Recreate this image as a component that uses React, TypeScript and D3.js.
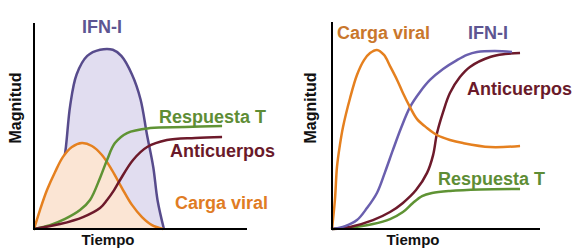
import React from "react";
import * as d3 from "d3";

// ---------- Data (time 0-100, magnitude 0-100) ----------
// Left panel
const leftIfnT = [12, 13, 15, 17, 20, 25, 31, 37, 41, 46, 50, 53, 56, 58, 61];
const leftIfnM = [0, 24, 40, 60, 75, 84, 87, 87, 84, 75, 63, 46, 30, 14, 0];

const leftViralT = [0, 2.8, 6.1, 9.9, 13.6, 17.8, 22.5, 27.2, 31.9, 36.6, 41.3, 46.0, 50.7, 55.4, 60.6];
const leftViralM = [0, 9.2, 18.9, 27.7, 35.0, 39.8, 41.7, 40.3, 35.9, 28.6, 19.9, 11.7, 5.8, 1.9, 0];

const leftTcellT = [0, 7.5, 14.6, 21.6, 26.3, 31.0, 34.3, 38.0, 43.7, 54.5, 70.9, 88.3];
const leftTcellM = [0, 1.9, 4.9, 9.2, 14.1, 24.8, 33.5, 41.7, 46.6, 49.0, 49.5, 50.0];

const leftAbT = [0, 12.2, 23.0, 31.0, 34.3, 37.6, 40.4, 46.5, 53.1, 62.4, 75.6, 88.3];
const leftAbM = [0, 2.4, 5.8, 10.2, 14.1, 18.9, 23.8, 33.5, 39.8, 43.2, 44.2, 44.7];

// Right panel
const rightViralT = [0, 1.4, 2.4, 3.8, 5.3, 8.7, 12.0, 15.4, 18.3, 21.6, 25.0, 27.9, 31.3, 34.1, 37.5, 40.9, 45.7, 50.5, 56.7, 63.0, 76.0, 90.4];
const rightViralM = [0, 14.0, 30.0, 40.6, 49.3, 63.3, 74.4, 81.6, 85.0, 86.5, 84.1, 78.7, 72.0, 65.7, 58.9, 53.1, 48.8, 45.4, 43.0, 41.5, 39.6, 40.1];

const rightIfnT = [0, 6.3, 12.0, 16.8, 21.6, 25.5, 29.3, 33.2, 37.5, 42.3, 47.1, 53.4, 60.1, 64.9, 69.7, 78.4, 86.5];
const rightIfnM = [0, 1.4, 4.3, 10.1, 17.4, 27.5, 38.2, 48.8, 58.9, 66.2, 72.0, 77.3, 81.6, 84.1, 85.5, 86.0, 85.5];

const rightAbT = [0, 8.7, 19.7, 27.9, 34.1, 40.4, 45.7, 48.6, 50.5, 53.4, 56.7, 61.5, 66.3, 76.0, 83.2, 90.4];
const rightAbM = [0, 1.0, 4.3, 8.2, 12.6, 18.8, 27.1, 35.7, 46.4, 56.5, 65.7, 73.4, 78.3, 83.1, 84.5, 85.0];

const rightTcellT = [0, 11.1, 19.7, 27.9, 34.1, 38.9, 43.3, 48.1, 56.7, 71.2, 90.4];
const rightTcellM = [0, 1.0, 2.4, 4.8, 8.2, 12.6, 15.9, 17.4, 18.4, 19.1, 19.3];

// Labels
const labelIfn = "IFN-I";
const labelViral = "Carga viral";
const labelTcell = "Respuesta T";
const labelAb = "Anticuerpos";
const labelX = "Tiempo";
const labelY = "Magnitud";

const zip = (t: number[], m: number[]) => t.map((v, i) => [v, m[i]] as [number, number]);

const FONT = "'Liberation Sans', Arial, sans-serif";
const C_ORANGE = "#e5801f";
const C_PURPLE = "#574b8c";
const C_PURPLE2 = "#6a5fae";
const C_GREEN = "#5f9334";
const C_RED = "#6d1a2b";

export default function App() {
  const W = 584, H = 250;

  const xL = d3.scaleLinear().domain([0, 100]).range([34, 247]);
  const yL = d3.scaleLinear().domain([0, 100]).range([229, 23]);
  const xR = d3.scaleLinear().domain([0, 100]).range([332, 540]);
  const yR = d3.scaleLinear().domain([0, 100]).range([229, 22]);

  const lineGen = (x: d3.ScaleLinear<number, number>, y: d3.ScaleLinear<number, number>) =>
    d3.line<[number, number]>().x(d => x(d[0])).y(d => y(d[1])).curve(d3.curveCatmullRom.alpha(0.5));
  const areaGen = (x: d3.ScaleLinear<number, number>, y: d3.ScaleLinear<number, number>) =>
    d3.area<[number, number]>().x(d => x(d[0])).y0(y(0)).y1(d => y(d[1])).curve(d3.curveCatmullRom.alpha(0.5));

  const lL = lineGen(xL, yL);
  const aL = areaGen(xL, yL);
  const lR = lineGen(xR, yR);

  const lIfn = zip(leftIfnT, leftIfnM);
  const lViral = zip(leftViralT, leftViralM);

  const txt = (x: number, y: number, s: string, fill: string, size = 18, anchor = "start") => (
    <text x={x} y={y} fill={fill} fontSize={size} fontWeight="bold" fontFamily={FONT} textAnchor={anchor}>{s}</text>
  );

  return (
    <svg width={W} height={H} style={{ position: "absolute", left: 0, top: 0, background: "#fff" }}>
      <rect width={W} height={H} fill="#fff" />
      {/* Left panel */}
      <path d={aL(lIfn) || ""} fill="#e1ddf0" />
      <path d={lL(lIfn) || ""} fill="none" stroke={C_PURPLE} strokeWidth={2.5} />
      <path d={aL(lViral) || ""} fill="#fbe5d4" />
      <path d={lL(lViral) || ""} fill="none" stroke={C_ORANGE} strokeWidth={2.5} />
      <path d={lL(zip(leftTcellT, leftTcellM)) || ""} fill="none" stroke={C_GREEN} strokeWidth={2.5} />
      <path d={lL(zip(leftAbT, leftAbM)) || ""} fill="none" stroke={C_RED} strokeWidth={2.5} />
      <line x1={xL(0)} x2={xL(0)} y1={yL(100)} y2={yL(0) + 1} stroke="#000" strokeWidth={2} />
      <line x1={xL(0)} x2={xL(100)} y1={yL(0)} y2={yL(0)} stroke="#000" strokeWidth={2} />
      {txt(82, 33, labelIfn, "#5e5592")}
      {txt(159, 123, labelTcell, "#5e8d35")}
      {txt(170, 157, labelAb, "#6a1a2a")}
      {txt(175, 209, labelViral, "#e07c24")}
      {txt(108, 245, labelX, "#111", 15, "middle")}
      <text transform="translate(21,108) rotate(-90)" fill="#111" fontSize={16} fontWeight="bold" fontFamily={FONT} textAnchor="middle">{labelY}</text>

      {/* Right panel */}
      <path d={lR(zip(rightTcellT, rightTcellM)) || ""} fill="none" stroke={C_GREEN} strokeWidth={2.5} />
      <path d={lR(zip(rightAbT, rightAbM)) || ""} fill="none" stroke={C_RED} strokeWidth={2.5} />
      <path d={lR(zip(rightIfnT, rightIfnM)) || ""} fill="none" stroke={C_PURPLE2} strokeWidth={2.5} />
      <path d={lR(zip(rightViralT, rightViralM)) || ""} fill="none" stroke={C_ORANGE} strokeWidth={2.5} />
      <line x1={xR(0)} x2={xR(0)} y1={yR(100)} y2={yR(0) + 1} stroke="#000" strokeWidth={2} />
      <line x1={xR(0)} x2={xR(100)} y1={yR(0)} y2={yR(0)} stroke="#000" strokeWidth={2} />
      {txt(337, 39, labelViral, "#c9772c")}
      {txt(468, 39, labelIfn, "#5e5592")}
      {txt(467, 95, labelAb, "#6a1a2a")}
      {txt(438, 185, labelTcell, "#5e8d35")}
      {txt(413, 245, labelX, "#111", 15, "middle")}
      <text transform="translate(316,108) rotate(-90)" fill="#111" fontSize={16} fontWeight="bold" fontFamily={FONT} textAnchor="middle">{labelY}</text>
    </svg>
  );
}
